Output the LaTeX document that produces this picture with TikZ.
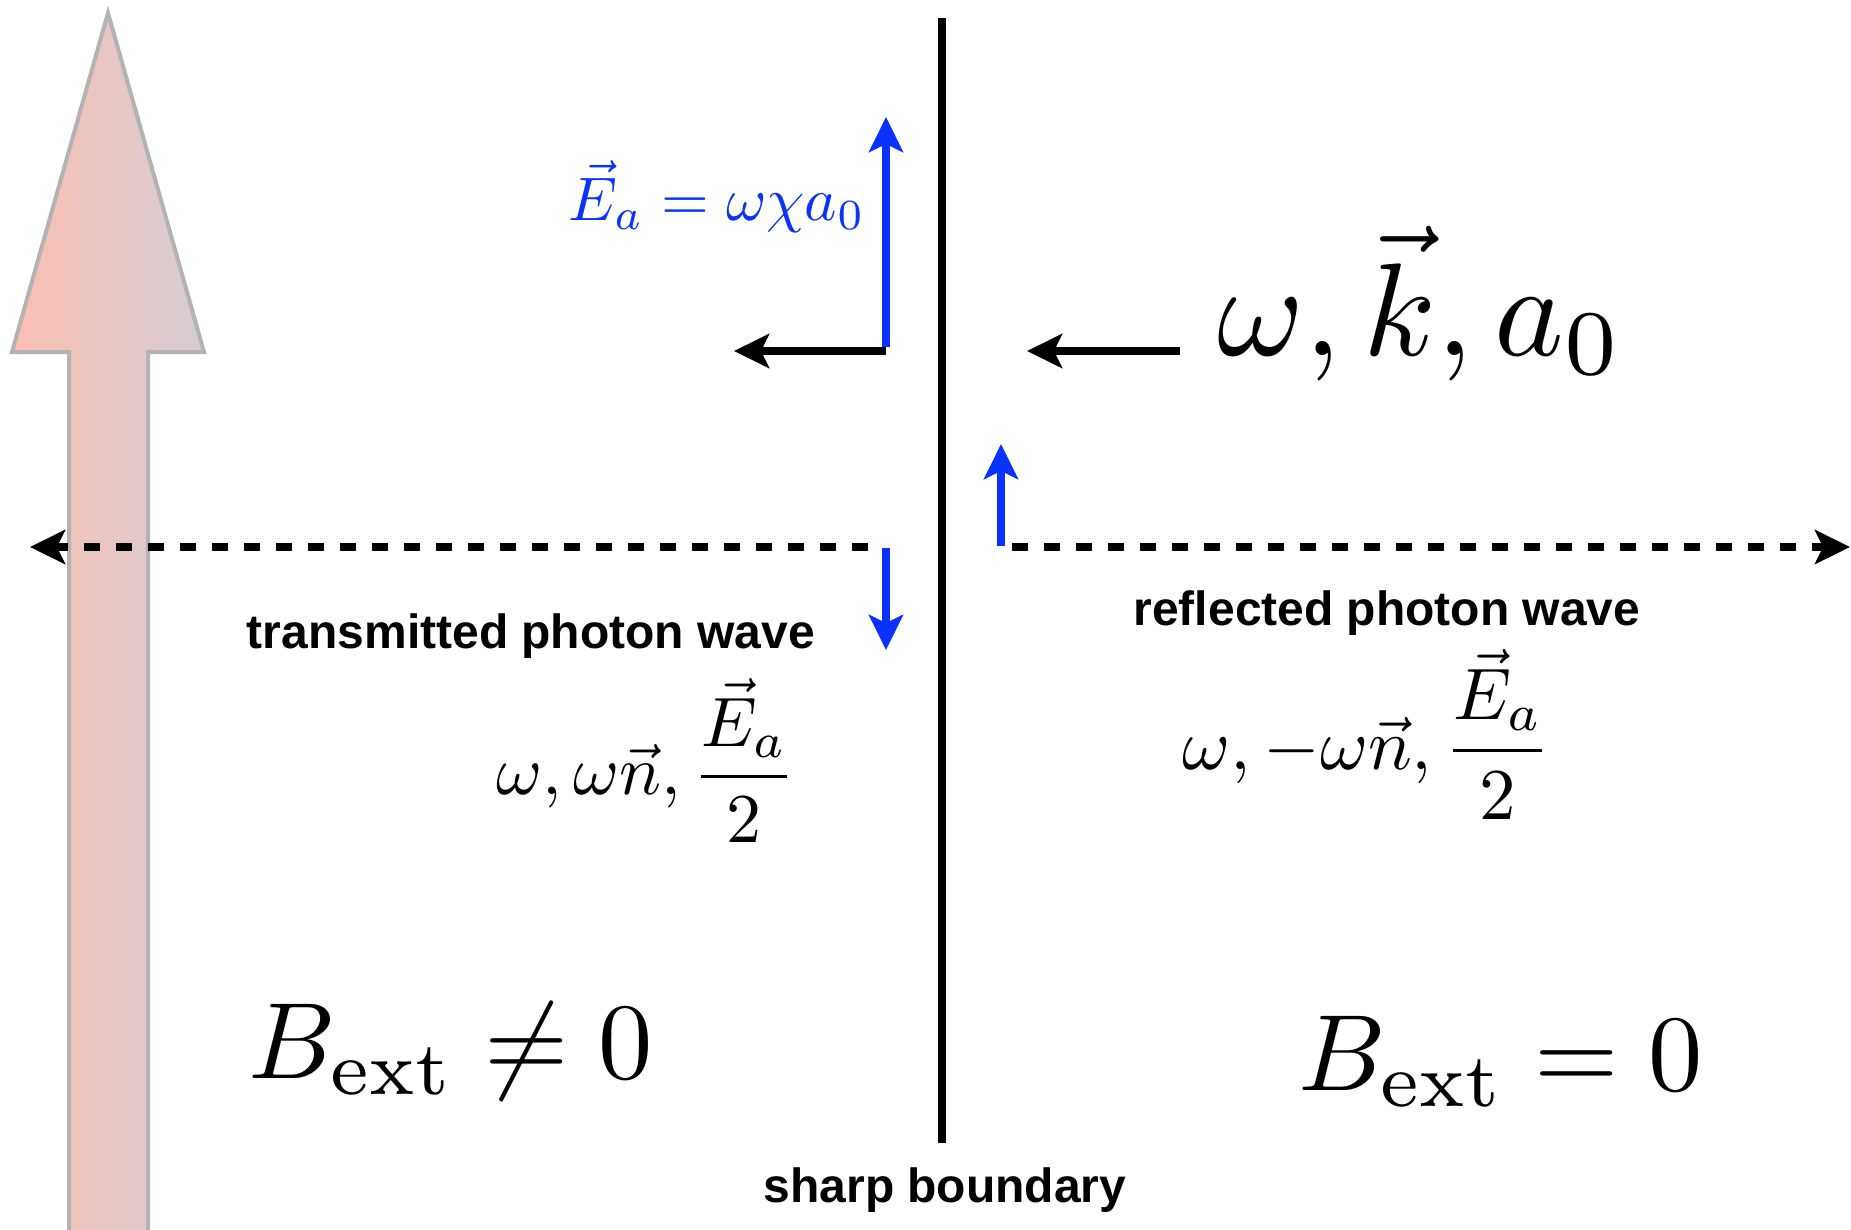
\documentclass[tikz,border=0pt]{standalone}
\usepackage{graphicx}
\usepackage{fontspec}
\newfontfamily\lblfont{Liberation Sans}
\usetikzlibrary{arrows.meta}
\definecolor{eblue}{RGB}{10,50,255}
\definecolor{pinkL}{RGB}{251,190,178}
\definecolor{pinkR}{RGB}{213,205,212}
\definecolor{bordergray}{RGB}{179,179,179}
\tikzset{
  lbl/.style={font=\fontsize{48}{56}\selectfont\lblfont\bfseries, inner sep=0pt, anchor=base},
  mth/.style={inner sep=0pt, anchor=base},
  bigtip/.style={-{Stealth[length=35pt,width=34pt,inset=8pt]}},
  wire/.style={line width=7.5pt},
  dashwire/.style={line width=7.5pt, dash pattern=on 16pt off 16pt},
}
\begin{document}
\begin{tikzpicture}[x=1pt,y=-1pt]
\useasboundingbox (0,0) rectangle (1851,1229);
\clip (0,0) rectangle (1851,1229);
\fill[white] (0,0) rectangle (1851,1229);
% big pink field arrow
\path[draw=bordergray, line width=4pt, left color=pinkL, right color=pinkR]
  (108,13) -- (204,352) -- (148,352) -- (148,1245) -- (69,1245) -- (69,352) -- (12,352) -- cycle;
% coordinates
\coordinate (bTop) at (942,18);
\coordinate (bBot) at (942,1143);
\coordinate (tCorner) at (886,351);
\coordinate (tUp) at (886,117);
\coordinate (tLeft) at (734,351);
\coordinate (inStart) at (1180,351);
\coordinate (inEnd) at (1027,351);
\coordinate (dlStart) at (868,547);
\coordinate (dlEnd) at (30,547);
\coordinate (bdStart) at (886,548);
\coordinate (bdEnd) at (886,650);
\coordinate (buStart) at (1001,546);
\coordinate (buEnd) at (1001,444);
\coordinate (drStart) at (1012,547);
\coordinate (drEnd) at (1850,547);
% boundary
\draw[wire] (bTop) -- (bBot);
% transmitted at top
\draw[wire, bigtip] (tCorner) -- (tLeft);
\draw[wire, eblue, bigtip] ([yshift=4pt]tCorner) -- (tUp);
% incoming
\draw[wire, bigtip] (inStart) -- (inEnd);
% dashed
\draw[dashwire, bigtip] (dlStart) -- (dlEnd);
\draw[dashwire, bigtip] (drStart) -- (drEnd);
% small blue arrows
\draw[wire, eblue, bigtip] (bdStart) -- (bdEnd);
\draw[wire, eblue, bigtip] (buStart) -- (buEnd);
% labels
\node[lbl] (trans) at (531,648) {transmitted photon wave};
\node[lbl] (refl) at (1387,625) {reflected photon wave};
\node[lbl] (sharp) at (945,1202) {sharp boundary};
\node[mth, text=eblue] (Ea) at (717,220) {\scalebox{6.15}{$\vec{E}_a=\omega\chi a_0$}};
\node[mth] (wka) at (1421,355) {\scalebox{13.2}{$\omega, \vec{k}, a_0$}};
\node[mth] (tw) at (646,794) {\scalebox{7.0}{$\omega,\omega\vec{n},\displaystyle\frac{\vec{E}_a}{2}$}};
\node[mth] (rw) at (1367,769) {\scalebox{7.3}{$\omega,-\omega\vec{n},\displaystyle\frac{\vec{E}_a}{2}$}};
\node[mth] (Bl) at (451,1078) {\scalebox{10.85}{$B_{\mathrm{ext}}\neq 0$}};
\node[mth] (Br) at (1501,1090) {\scalebox{10.85}{$B_{\mathrm{ext}}=0$}};
\end{tikzpicture}
\end{document}
